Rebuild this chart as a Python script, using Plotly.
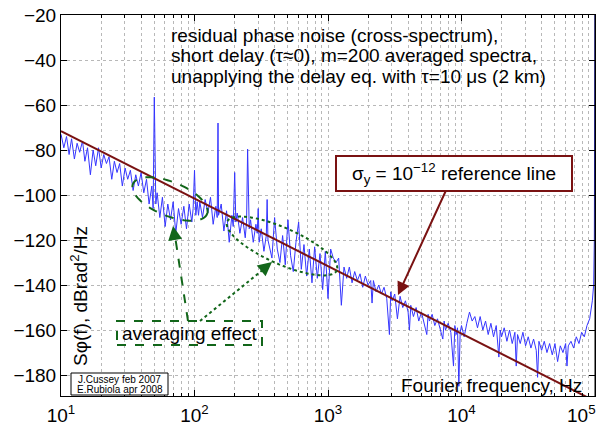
import math
import plotly.graph_objects as go

# ---------------- data ----------------
freq_d1 = [10, 10.5, 11, 11.5, 12, 12.6, 13.2, 13.8, 14.5, 15.1,
           15.8, 16.6, 17.4, 18.2, 19.1, 20, 20.9, 21.9, 22.9, 24,
           25.1, 26.3, 27.5, 28.8, 30.2, 31.6, 33.1, 34.7, 36.3, 38,
           39.8, 41.7, 43.7, 45.7, 47.9, 49, 50, 51.3, 52.5,
           55, 57.5, 60.3, 63.1, 66.1, 69.2, 72.4, 75.9, 79.4, 83.2, 87.1, 91.2, 95.5,
           97.7, 100, 102.3, 104.7]
sphi_d1 = [-73, -79, -74, -82, -75, -84, -77, -81, -76, -85,
           -79, -91, -80, -87, -79, -88, -82, -86, -83, -93,
           -85, -90, -86, -96, -88, -93, -89, -98, -91, -96,
           -90, -99, -93, -104, -96, -106, -56.5, -104, -99,
           -110, -101, -114, -104, -111, -103, -117, -106, -113, -105, -115, -104, -112,
           -106, -89, -109, -103]

freq_d2 = [107.2, 109.6, 114.8, 120.2, 125.9, 131.8, 138, 144.5, 147.9, 150,
           151.4, 158.5, 166, 173.8, 182, 190.5, 195, 200, 204, 208.9,
           218.8, 229.1, 239.9, 245.5, 250, 257, 263, 275.4, 288.4, 295,
           300, 305, 316.2, 331.1, 345, 350, 355, 380.2, 398.1, 416.9,
           436.5, 457.1, 478.6, 501.2, 524.8, 549.5, 575.4, 602.6, 631, 660.7,
           691.8, 724.4, 758.6, 794.3, 831.8, 871, 912, 955, 1000, 1047, 1096]
sphi_d2 = [-109, -103, -110, -102, -108, -101, -113, -105, -110, -68,
           -109, -104, -116, -107, -121, -109, -114, -90, -112, -108,
           -117, -110, -119, -112, -79.6, -115, -111, -121, -113, -117,
           -106, -121, -115, -125, -118, -102, -120, -128, -110, -124,
           -130, -118, -131, -111, -127, -134, -121, -112, -133, -122,
           -136, -124, -139, -123, -137, -126, -142, -125, -146, -124, -128]

freq_d3 = [1148, 1202, 1259, 1318, 1380, 1445, 1514, 1585, 1660, 1738,
           1820, 1905, 1995, 2089, 2138, 2188, 2291, 2399, 2512, 2630,
           2754, 2884, 2951, 3020, 3162, 3311, 3467, 3631, 3802, 3981,
           4074, 4169, 4365, 4571, 4786, 5012, 5248, 5495, 5623, 5754,
           6026, 6310, 6607, 6918, 7244, 7413, 7586, 7943, 8318, 8710,
           8913, 9120, 9333, 9550, 9772, 10000, 10470, 10960, 11480, 12020, 12590]
sphi_d3 = [-130, -128, -149, -132, -137, -132, -139, -134, -138, -135,
           -141, -136, -140, -138, -148, -138, -143, -140, -144, -141,
           -146, -162, -143, -147, -144, -155, -145, -150, -147, -152,
           -160, -149, -154, -150, -156, -152, -157, -162, -153, -156,
           -153, -158, -155, -159, -164, -156, -160, -157, -161, -176,
           -158, -162, -159, -185, -161, -158, -163, -157, -152, -156, -154]

freq_d4 = [13180, 13800, 14450, 15140, 15850, 16600, 17380, 18200, 19050, 19500,
           19950, 20890, 21880, 22910, 23990, 25120, 25700, 26300, 27540, 28840,
           30200, 31620, 33110, 34670, 36310, 37150, 38020, 39810, 41690, 43650,
           45710, 47860, 50120, 52480, 54950, 57540, 60260, 61660, 63100, 66070,
           69180, 72440, 75860, 79430, 83180, 87100, 91200, 93330, 95500, 97720,
           98860, 100000]
sphi_d4 = [-159, -154, -160, -156, -162, -157, -163, -158, -172, -160,
           -163, -159, -165, -160, -166, -161, -176, -162, -166, -161,
           -167, -163, -168, -164, -169, -181, -165, -169, -165, -170,
           -166, -171, -166, -174, -167, -170, -166, -176, -167, -165,
           -168, -163, -166, -161, -163, -158, -155, -151, -147, -140,
           -120, -10]

ref_freq = [10, 100000]          # sigma_y = 1e-12 reference line
ref_sphi = [-71.6, -191.6]

x_tick_vals = [10, 100, 1000, 10000]
x_tick_text = ["10<sup>1</sup>", "10<sup>2</sup>", "10<sup>3</sup>", "10<sup>4</sup>"]
x_last_tick_text = "10<sup>5</sup>"   # drawn pulled left to stay inside the window
x_minor_vals = [m * d for d in (10, 100, 1000, 10000) for m in range(2, 10)]
y_tick_vals = [-20, -40, -60, -80, -100, -120, -140, -160, -180]

title_lines = ["residual phase noise (cross-spectrum),",
               "short delay (τ≈0), m=200 averaged spectra,",
               "unapplying the delay eq. with τ=10 μs (2 km)"]

freq = freq_d1 + freq_d2 + freq_d3 + freq_d4
sphi = sphi_d1 + sphi_d2 + sphi_d3 + sphi_d4
assert len(freq) == len(sphi)

# ---------------- layout helpers (pixel -> paper) ----------------
W, H = 602, 425
L, R, T, B = 61, 595, 15, 396
def px(X):
    return (X - L) / (R - L)
def py(Y):
    return (B - Y) / (B - T)

def ellipse_path(cx, cy, a, b, ang_deg, n=80):
    th = math.radians(ang_deg)
    pts = []
    for i in range(n):
        t = 2 * math.pi * i / n
        X = cx + a * math.cos(t) * math.cos(th) - b * math.sin(t) * math.sin(th)
        Y = cy + a * math.cos(t) * math.sin(th) + b * math.sin(t) * math.cos(th)
        pts.append(f"{px(X):.5f},{py(Y):.5f}")
    return "M" + " L".join(pts) + " Z"

FONT = "Liberation Sans, Arial, Helvetica, sans-serif"
GREEN = "#12661a"
RED = "#7a1212"
BLUE = "#3535ff"
GRID = "#b8b8b8"

fig = go.Figure()
fig.add_trace(go.Scatter(x=freq, y=sphi, mode="lines",
                         line=dict(color=BLUE, width=1), hoverinfo="skip"))
fig.add_trace(go.Scatter(x=ref_freq, y=ref_sphi, mode="lines",
                         line=dict(color=RED, width=2), hoverinfo="skip"))

fig.update_layout(
    width=W, height=H,
    margin=dict(l=L, r=W - R, t=T, b=H - B),
    paper_bgcolor="white", plot_bgcolor="white",
    showlegend=False,
    font=dict(family=FONT, size=19, color="black"),
)
fig.update_xaxes(
    type="log", range=[1, 5], automargin=False,
    tickmode="array", tickvals=x_tick_vals, ticktext=x_tick_text,
    ticks="inside", ticklen=6, tickcolor="black", ticklabelstandoff=2,
    showline=True, linecolor="black", linewidth=1, mirror="ticks",
    showgrid=True, gridcolor=GRID, griddash="dot", gridwidth=1,
    zeroline=False, tickfont=dict(size=19),
    minor=dict(tickmode="array", tickvals=x_minor_vals, ticks="inside", ticklen=3,
               tickcolor="black", showgrid=True, gridcolor=GRID, griddash="dot", gridwidth=1),
)
fig.update_yaxes(
    range=[-189.3, -20], automargin=False,
    tickmode="array", tickvals=y_tick_vals,
    ticks="inside", ticklen=6, tickcolor="black",
    showline=True, linecolor="black", linewidth=1, mirror="ticks",
    showgrid=True, gridcolor=GRID, griddash="dot", gridwidth=1,
    zeroline=False, tickfont=dict(size=19),
)

shapes = []
# averaging-effect ellipses
shapes.append(dict(type="path", xref="paper", yref="paper",
                   path=ellipse_path(170, 199, 40, 17, 22),
                   line=dict(color=GREEN, width=2, dash="dash")))
shapes.append(dict(type="path", xref="paper", yref="paper",
                   path=ellipse_path(282, 246, 60, 18, 24),
                   line=dict(color=GREEN, width=2, dash="dot")))
# averaging-effect box
shapes.append(dict(type="rect", xref="paper", yref="paper",
                   x0=px(117), x1=px(262), y0=py(345), y1=py(321),
                   line=dict(color=GREEN, width=2, dash="dash"), fillcolor="rgba(0,0,0,0)"))
# arrow shafts
shapes.append(dict(type="line", xref="paper", yref="paper",
                   x0=px(188), y0=py(321), x1=px(175), y1=py(236),
                   line=dict(color=GREEN, width=2, dash="dash")))
shapes.append(dict(type="line", xref="paper", yref="paper",
                   x0=px(200), y0=py(321), x1=px(265), y1=py(268),
                   line=dict(color=GREEN, width=2, dash="dot")))
# right frame edge
shapes.append(dict(type="line", xref="paper", yref="paper",
                   x0=1, x1=1, y0=0, y1=1, line=dict(color="black", width=1)))
# credits box
shapes.append(dict(type="rect", xref="paper", yref="paper",
                   x0=px(71), x1=px(168), y0=py(395), y1=py(373),
                   line=dict(color="black", width=1), fillcolor="white"))
fig.update_layout(shapes=shapes)

ann = []
for i, line in enumerate(title_lines):
    ann.append(dict(xref="paper", yref="paper", x=px(169), y=py(35 + 21 * i),
                    xanchor="left", yanchor="middle", showarrow=False,
                    text=line, font=dict(size=19)))
ann.append(dict(xref="paper", yref="paper", x=px(79), y=py(296), textangle=-90,
                xanchor="center", yanchor="middle", showarrow=False,
                text="Sφ(f), dBrad<sup>2</sup>/Hz", font=dict(size=19)))
ann.append(dict(xref="paper", yref="paper", x=px(584), y=py(385),
                xanchor="right", yanchor="middle", showarrow=False,
                text="Fourier frequency, Hz", font=dict(size=19)))
ann.append(dict(xref="paper", yref="paper", x=px(598), y=py(414),
                xanchor="right", yanchor="middle", showarrow=False,
                text=x_last_tick_text, font=dict(size=19)))
ann.append(dict(xref="paper", yref="paper", x=px(398), y=py(295),
                ax=56, ay=-122, axref="pixel", ayref="pixel",
                showarrow=True, arrowhead=2, arrowsize=1.3, arrowwidth=2, arrowcolor=RED,
                text="σ<sub>y</sub> = 10<sup>−12</sup> reference line",
                font=dict(size=19), bgcolor="white", bordercolor=RED, borderwidth=2,
                borderpad=2, width=230, height=29))
ann.append(dict(xref="paper", yref="paper", x=px(189.5), y=py(333),
                xanchor="center", yanchor="middle", showarrow=False,
                text="averaging effect", font=dict(size=19)))
ann.append(dict(xref="paper", yref="paper", x=px(173), y=py(226),
                ax=2.3, ay=14.8, axref="pixel", ayref="pixel", text="",
                showarrow=True, arrowhead=2, arrowsize=1.4, arrowwidth=2, arrowcolor=GREEN))
ann.append(dict(xref="paper", yref="paper", x=px(272), y=py(262),
                ax=-11.6, ay=9.5, axref="pixel", ayref="pixel", text="",
                showarrow=True, arrowhead=2, arrowsize=1.4, arrowwidth=2, arrowcolor=GREEN))
NARROW = "Liberation Sans Narrow, Arial Narrow, Liberation Sans, sans-serif"
ann.append(dict(xref="paper", yref="paper", x=px(119.5), y=py(379),
                xanchor="center", yanchor="middle", showarrow=False,
                text="J.Cussey feb 2007", font=dict(size=10, family=NARROW)))
ann.append(dict(xref="paper", yref="paper", x=px(119.5), y=py(389),
                xanchor="center", yanchor="middle", showarrow=False,
                text="E.Rubiola apr 2008", font=dict(size=10, family=NARROW)))
fig.update_layout(annotations=ann)

fig.write_html("out.html")
